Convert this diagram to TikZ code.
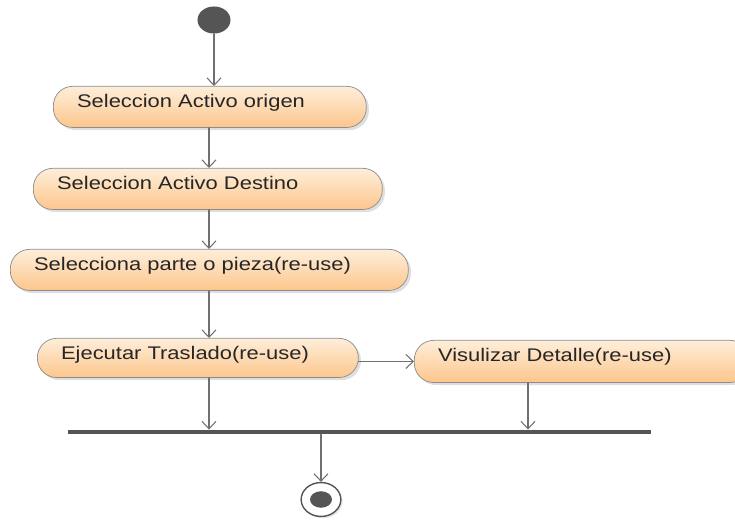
\documentclass[tikz,border=0pt]{standalone}
\usepackage{fontspec}
\setmainfont{Liberation Sans}[FakeStretch=1.2]
\usetikzlibrary{arrows.meta,shadows,shapes.geometric}

\definecolor{actTop}{RGB}{254,238,218}
\definecolor{actBot}{RGB}{253,198,140}
\definecolor{actLine}{RGB}{140,140,140}
\definecolor{flowGray}{RGB}{112,112,112}
\definecolor{dotGray}{RGB}{85,85,85}

\tikzset{
  act/.style={rectangle, rounded corners=11pt, draw=actLine, top color=actTop, bottom color=actBot,
    anchor=north west, align=left, inner xsep=13.5pt, inner ysep=0pt,
    text height=12pt, text depth=11.4pt, text=black!85,
    font=\fontsize{10.4}{12}\selectfont,
    drop shadow={opacity=0.25, shadow xshift=1.5pt, shadow yshift=-1.5pt}},
  flow/.style={draw=flowGray, line width=0.6pt, -{Straight Barb[length=4.2pt,width=8pt]}},
  forkbar/.style={rectangle, fill=dotGray, inner sep=0pt, minimum height=2.4pt, minimum width=331.8pt}
}

\begin{document}
\begin{tikzpicture}[x=0.02cm, y=-0.02cm, line cap=round, line join=round]
	\clip (0,0) rectangle (735,520);
	%Coordinates
	\coordinate (col) at (209,0);
	\coordinate (col2) at (528,0);

	%Start and end
	\node[ellipse, fill=dotGray, inner sep=0pt, minimum width=18.8pt, minimum height=15.4pt] (start) at (214,20) {};
	\node[ellipse, draw=dotGray, line width=0.8pt, fill=white, inner sep=0pt, minimum width=22.6pt, minimum height=19.3pt,
	      drop shadow={opacity=0.2, shadow xshift=1pt, shadow yshift=-1pt}] (final) at (321,499.5) {};
	\node[ellipse, fill=dotGray, inner sep=0pt, minimum width=12.5pt, minimum height=9.4pt] (finaldot) at (final) {};

	%Activities
	\node[act, text width=151.1pt] (a1) at (53,86) {Seleccion Activo origen};
	\node[act, text width=171.6pt] (a2) at (33,168) {Seleccion Activo Destino};
	\node[act, text width=199.5pt] (a3) at (10,249) {Selecciona parte o pieza(re-use)};
	\node[act, text width=155.7pt, text depth=10.3pt] (a4) at (37,338) {Ejecutar Traslado(re-use)};
	\node[act, text width=163.6pt, text depth=12pt] (a5) at (414,340) {Visulizar Detalle(re-use)};

	%Join bar
	\node[forkbar] (join) at (359.5,432) {};

	%Flows
	\draw[flow] (start) -- (start |- a1.north);
	\draw[flow] (a1.south -| col) -- (a2.north -| col);
	\draw[flow] (a2.south -| col) -- (a3.north -| col);
	\draw[flow] (a3.south -| col) -- (a4.north -| col);
	\draw[flow] (a4.south -| col) -- (join.north -| col);
	\draw[flow] (a5.west -| a4.east) -- (a5.west);
	\draw[flow] (a5.south -| col2) -- (join.north -| col2);
	\draw[flow] (join.south -| final) -- (final.north);

\end{tikzpicture}
\end{document}
